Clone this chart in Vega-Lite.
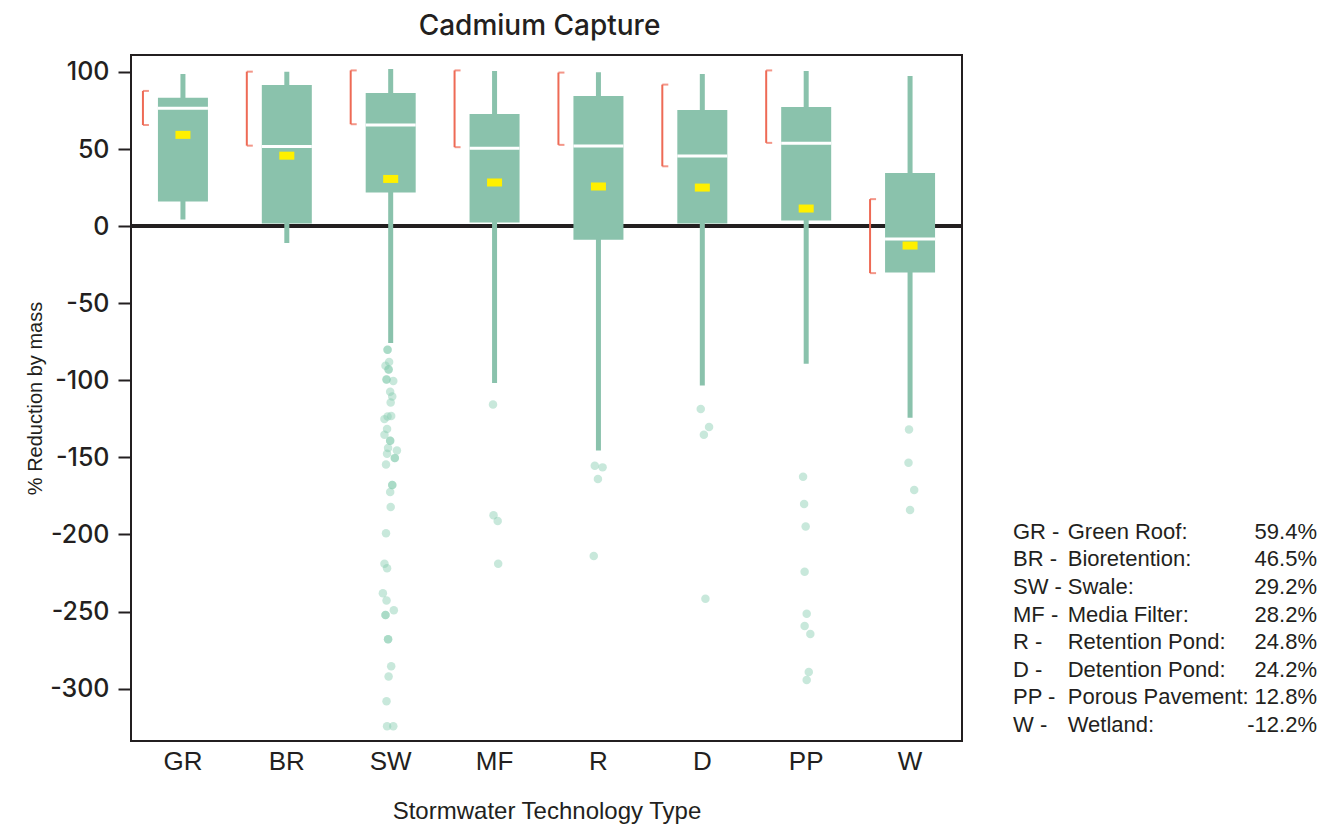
{
  "$schema": "https://vega.github.io/schema/vega-lite/v6.json",
  "background": "white",
  "padding": {"left": 24, "top": 12, "right": 4, "bottom": 5},
  "config": {"font": "Liberation Sans", "view": {"stroke": null}},
  "spacing": 48,
  "datasets": {
    "boxes": [
      {"type": "GR", "abbr": "GR -", "name": "Green Roof:", "pct": "59.4%", "idx": 1, "wlo": 4.3, "q1": 15.9, "med": 76.5, "q3": 83.3, "whi": 98.7, "mean": 59.2, "clo": 65.6, "chi": 87.7},
      {"type": "BR", "abbr": "BR -", "name": "Bioretention:", "pct": "46.5%", "idx": 2, "wlo": -11, "q1": 1.7, "med": 51.6, "q3": 91.6, "whi": 100.2, "mean": 45.7, "clo": 52.2, "chi": 100.2},
      {"type": "SW", "abbr": "SW -", "name": "Swale:", "pct": "29.2%", "idx": 3, "wlo": -75.9, "q1": 21.8, "med": 65.6, "q3": 86.4, "whi": 101.9, "mean": 30.6, "clo": 66.1, "chi": 101},
      {"type": "MF", "abbr": "MF -", "name": "Media Filter:", "pct": "28.2%", "idx": 4, "wlo": -101.8, "q1": 2.3, "med": 50.5, "q3": 72.8, "whi": 100.6, "mean": 28.3, "clo": 51.2, "chi": 101},
      {"type": "R", "abbr": "R -", "name": "Retention Pond:", "pct": "24.8%", "idx": 5, "wlo": -145.5, "q1": -8.9, "med": 52, "q3": 84.4, "whi": 99.8, "mean": 25.7, "clo": 52.7, "chi": 99.6},
      {"type": "D", "abbr": "D -", "name": "Detention Pond:", "pct": "24.2%", "idx": 6, "wlo": -103.4, "q1": 1.7, "med": 45.5, "q3": 75.4, "whi": 98.7, "mean": 25, "clo": 38.8, "chi": 91.8},
      {"type": "PP", "abbr": "PP -", "name": "Porous Pavement:", "pct": "12.8%", "idx": 7, "wlo": -89.3, "q1": 3.6, "med": 53.7, "q3": 77.3, "whi": 100.6, "mean": 11.4, "clo": 54, "chi": 101},
      {"type": "W", "abbr": "W -", "name": "Wetland:", "pct": "-12.2%", "idx": 8, "wlo": -124.3, "q1": -30.1, "med": -8.3, "q3": 34.5, "whi": 97.4, "mean": -12.6, "clo": -30.5, "chi": 17.5}
    ],
    "outliers": [
      {"type": "SW", "value": -80.2, "jit": -0.06},
      {"type": "SW", "value": -80.2, "jit": -0.06},
      {"type": "SW", "value": -88.2, "jit": -0.03},
      {"type": "SW", "value": -90.6, "jit": -0.1},
      {"type": "SW", "value": -93, "jit": -0.04},
      {"type": "SW", "value": -93, "jit": -0.04},
      {"type": "SW", "value": -99.5, "jit": -0.08},
      {"type": "SW", "value": -99.5, "jit": -0.08},
      {"type": "SW", "value": -100.5, "jit": 0.05},
      {"type": "SW", "value": -107.5, "jit": -0.01},
      {"type": "SW", "value": -110.5, "jit": 0.03},
      {"type": "SW", "value": -114.4, "jit": 0},
      {"type": "SW", "value": -123.5, "jit": -0.06},
      {"type": "SW", "value": -125.2, "jit": -0.12},
      {"type": "SW", "value": -123.2, "jit": 0.01},
      {"type": "SW", "value": -131.6, "jit": -0.07},
      {"type": "SW", "value": -135.3, "jit": -0.12},
      {"type": "SW", "value": -139.2, "jit": -0.01},
      {"type": "SW", "value": -139.2, "jit": -0.01},
      {"type": "SW", "value": -144, "jit": -0.05},
      {"type": "SW", "value": -145.5, "jit": 0.12},
      {"type": "SW", "value": -147.6, "jit": -0.07},
      {"type": "SW", "value": -150.5, "jit": 0.08},
      {"type": "SW", "value": -150.5, "jit": 0.08},
      {"type": "SW", "value": -154.6, "jit": -0.09},
      {"type": "SW", "value": -168, "jit": 0.03},
      {"type": "SW", "value": -168, "jit": 0.03},
      {"type": "SW", "value": -172.5, "jit": -0.01},
      {"type": "SW", "value": -182.2, "jit": 0},
      {"type": "SW", "value": -199.3, "jit": -0.09},
      {"type": "SW", "value": -219, "jit": -0.12},
      {"type": "SW", "value": -222, "jit": -0.07},
      {"type": "SW", "value": -238.2, "jit": -0.15},
      {"type": "SW", "value": -242.8, "jit": -0.08},
      {"type": "SW", "value": -249.2, "jit": 0.06},
      {"type": "SW", "value": -252.2, "jit": -0.1},
      {"type": "SW", "value": -252.2, "jit": -0.1},
      {"type": "SW", "value": -268, "jit": -0.05},
      {"type": "SW", "value": -268, "jit": -0.05},
      {"type": "SW", "value": -285.5, "jit": 0.01},
      {"type": "SW", "value": -292.2, "jit": -0.04},
      {"type": "SW", "value": -308.2, "jit": -0.08},
      {"type": "SW", "value": -324.4, "jit": -0.07},
      {"type": "SW", "value": -324.4, "jit": 0.05},
      {"type": "MF", "value": -115.7, "jit": -0.03},
      {"type": "MF", "value": -187.6, "jit": -0.02},
      {"type": "MF", "value": -191.3, "jit": 0.06},
      {"type": "MF", "value": -219, "jit": 0.07},
      {"type": "R", "value": -155.4, "jit": -0.07},
      {"type": "R", "value": -156.5, "jit": 0.08},
      {"type": "R", "value": -164.1, "jit": -0.01},
      {"type": "R", "value": -214, "jit": -0.09},
      {"type": "D", "value": -118.7, "jit": -0.03},
      {"type": "D", "value": -130.3, "jit": 0.13},
      {"type": "D", "value": -135.3, "jit": 0.03},
      {"type": "D", "value": -241.7, "jit": 0.06},
      {"type": "PP", "value": -162.6, "jit": -0.06},
      {"type": "PP", "value": -180.3, "jit": -0.04},
      {"type": "PP", "value": -194.8, "jit": -0.01},
      {"type": "PP", "value": -224.2, "jit": -0.03},
      {"type": "PP", "value": -251.4, "jit": 0.01},
      {"type": "PP", "value": -259.4, "jit": -0.03},
      {"type": "PP", "value": -264.6, "jit": 0.08},
      {"type": "PP", "value": -289.2, "jit": 0.05},
      {"type": "PP", "value": -294.4, "jit": 0.01},
      {"type": "W", "value": -131.9, "jit": -0.02},
      {"type": "W", "value": -153.5, "jit": -0.03},
      {"type": "W", "value": -171.2, "jit": 0.08},
      {"type": "W", "value": -184.2, "jit": 0}
    ]
  },
  "hconcat": [
    {
      "width": 831,
      "height": 686,
      "view": {"stroke": "#231F20", "strokeWidth": 2},
      "title": {"text": "Cadmium Capture", "font": "Inter", "fontSize": 28, "fontWeight": 500, "color": "#231F20", "offset": 14, "anchor": "middle", "dx": -7},
      "encoding": {
        "x": {
          "field": "type", "type": "nominal",
          "scale": {"domain": ["GR", "BR", "SW", "MF", "R", "D", "PP", "W"], "paddingInner": 0, "paddingOuter": 0},
          "axis": {"title": "Stormwater Technology Type", "titleFont": "Liberation Sans", "titleFontSize": 24, "titleFontWeight": "normal", "titleColor": "#231F20", "titlePadding": 25, "labelFont": "Liberation Sans", "labelFontSize": 26, "labelFontWeight": "normal", "labelColor": "#231F20", "labelAngle": 0, "labelPadding": 7, "ticks": false, "domain": false}
        }
      },
      "layer": [
        {
          "data": {"values": [{}]},
          "mark": {"type": "rule", "color": "#231F20", "strokeWidth": 4},
          "encoding": {"y": {"datum": 0, "type": "quantitative"}, "x": null}
        },
        {
          "data": {"name": "outliers"},
          "mark": {"type": "circle", "size": 72, "color": "#86CBB0", "opacity": 0.45},
          "encoding": {
            "y": {"field": "value", "type": "quantitative"},
            "xOffset": {"field": "jit", "type": "quantitative", "scale": {"domain": [-1, 1]}}
          }
        },
        {
          "data": {"name": "boxes"},
          "mark": {"type": "rule", "color": "#8AC2AC", "strokeWidth": 5},
          "encoding": {
            "y": {"field": "wlo", "type": "quantitative", "scale": {"domain": [-334, 111], "nice": false, "zero": false},
              "axis": {"title": "% Reduction by mass", "titleFont": "Liberation Sans", "titleFontSize": 20, "titleFontWeight": "normal", "titleColor": "#231F20", "titlePadding": 4,
                "values": [100, 50, 0, -50, -100, -150, -200, -250, -300], "labelExpr": "'' + datum.value", "labelFont": "Inter", "labelFontWeight": 500, "labelFontSize": 25, "labelColor": "#231F20", "labelPadding": 9,
                "tickSize": 13, "tickWidth": 2, "tickColor": "#231F20", "domain": false, "grid": false}},
            "y2": {"field": "whi"}
          }
        },
        {
          "data": {"name": "boxes"},
          "mark": {"type": "bar", "color": "#8AC2AC", "width": 50},
          "encoding": {"y": {"field": "q1", "type": "quantitative"}, "y2": {"field": "q3"}}
        },
        {
          "data": {"name": "boxes"},
          "mark": {"type": "tick", "color": "#FFFFFF", "size": 50, "thickness": 3, "opacity": 1},
          "encoding": {"y": {"field": "med", "type": "quantitative"}}
        },
        {
          "data": {"name": "boxes"},
          "mark": {"type": "tick", "color": "#FFF000", "size": 15, "thickness": 8, "opacity": 1},
          "encoding": {"y": {"field": "mean", "type": "quantitative"}}
        },
        {
          "data": {"name": "boxes"},
          "mark": {"type": "rule", "color": "#EE6A55", "strokeWidth": 2, "xOffset": -40},
          "encoding": {"y": {"field": "clo", "type": "quantitative"}, "y2": {"field": "chi"}}
        },
        {
          "data": {"name": "boxes"},
          "mark": {"type": "tick", "color": "#EE6A55", "size": 6, "thickness": 2, "xOffset": -37},
          "encoding": {"y": {"field": "clo", "type": "quantitative"}}
        },
        {
          "data": {"name": "boxes"},
          "mark": {"type": "tick", "color": "#EE6A55", "size": 6, "thickness": 2, "xOffset": -37},
          "encoding": {"y": {"field": "chi", "type": "quantitative"}}
        }
      ]
    },
    {
      "width": 304,
      "height": 686,
      "data": {"name": "boxes"},
      "encoding": {
        "y": {"field": "idx", "type": "quantitative", "scale": {"domain": [-16.27, 8.58], "nice": false, "zero": false, "reverse": true}, "axis": null}
      },
      "layer": [
        {
          "mark": {"type": "text", "font": "Liberation Sans", "fontSize": 22, "align": "left", "baseline": "middle", "color": "#231F20"},
          "encoding": {"x": {"datum": 0, "type": "quantitative", "scale": {"domain": [0, 100], "nice": false}, "axis": null}, "text": {"field": "abbr"}}
        },
        {
          "mark": {"type": "text", "font": "Liberation Sans", "fontSize": 22, "align": "left", "baseline": "middle", "color": "#231F20"},
          "encoding": {"x": {"datum": 18, "type": "quantitative"}, "text": {"field": "name"}}
        },
        {
          "mark": {"type": "text", "font": "Liberation Sans", "fontSize": 22, "align": "right", "baseline": "middle", "color": "#231F20"},
          "encoding": {"x": {"datum": 100, "type": "quantitative"}, "text": {"field": "pct"}}
        }
      ]
    }
  ]
}
